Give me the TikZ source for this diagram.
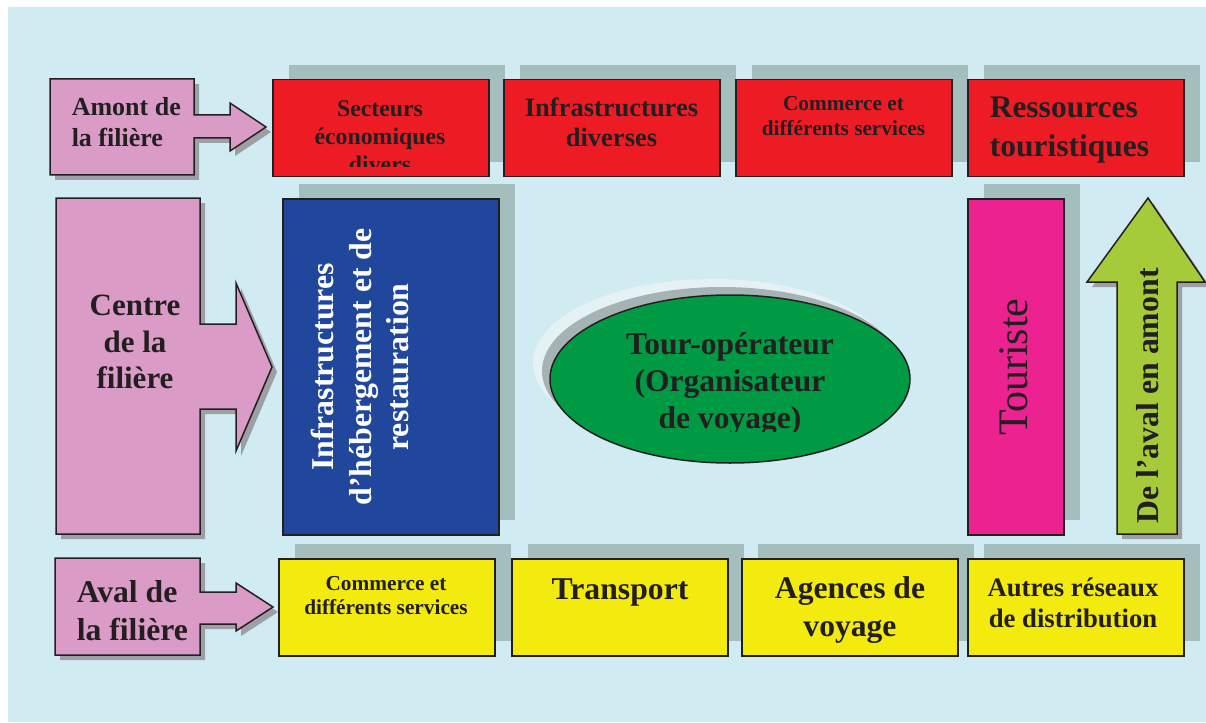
\documentclass[tikz,border=0pt]{standalone}
\usepackage{fontspec}
\setmainfont{Liberation Serif}
\usetikzlibrary{shapes.geometric}
\usetikzlibrary{shadows}
\definecolor{fond}{RGB}{208,236,242}
\definecolor{ombre}{RGB}{164,190,190}
\definecolor{ombrefl}{RGB}{156,159,163}
\definecolor{halo}{RGB}{228,242,246}
\definecolor{ombreel}{RGB}{166,179,181}
\definecolor{rouge}{RGB}{237,28,36}
\definecolor{bleu}{RGB}{33,71,157}
\definecolor{vert}{RGB}{0,154,68}
\definecolor{rose}{RGB}{236,34,144}
\definecolor{lime}{RGB}{166,203,58}
\definecolor{jaune}{RGB}{243,235,14}
\definecolor{mauve}{RGB}{218,155,198}
\definecolor{encre}{RGB}{35,31,32}
\newcommand\taille[2]{\fontsize{#1}{#2}\selectfont}

\begin{document}
\begin{tikzpicture}[x=1pt,y=-1pt,line width=1.5pt]%
\tikzset{boite/.style={draw=encre,anchor=north west,inner sep=0pt,minimum width=216pt,minimum height=97pt,
   general shadow={fill=ombre,shadow xshift=16pt,shadow yshift=15pt}},
 fleche/.style={draw=encre,fill=mauve,line join=miter,general shadow={fill=ombrefl,shadow xshift=5pt,shadow yshift=-5pt}},
 texte/.style={inner sep=0pt,align=center,text=encre,font=\bfseries}}
\useasboundingbox (0,0) rectangle (1206,722);
\fill[fond] (8,7) rectangle (1206,722);
%% amont
\draw[fleche] (50,79)--(194,79)--(194,115)--(230,115)--(230,103)--(266,127)--(230,151)--(230,138)--(194,138)--(194,175)--(50,175)--cycle;
\node[boite,fill=rouge] (am1) at (272,79) {}; %%
\node[boite,fill=rouge] (am2) at (503,79) {}; %%
\node[boite,fill=rouge] (am3) at (735,79) {}; %%
\node[boite,fill=rouge] (am4) at (967,79) {}; %%
%% centre
\draw[fleche] (56,198)--(200,198)--(200,324)--(236,324)--(236,283)--(272,367)--(236,451)--(236,409)--(200,409)--(200,534)--(56,534)--cycle;
\node[boite,fill=bleu,minimum height=336pt] (heb) at (282,198) {}; %%
\node[ellipse,draw=encre,fill=vert,minimum width=360pt,minimum height=168pt,
   general shadow={fill=halo,shadow xshift=-17pt,shadow yshift=16pt},
   general shadow={fill=ombreel,shadow xshift=-8pt,shadow yshift=8pt}] (to) at (730,379) {}; %%
\node[boite,fill=rose,minimum width=96pt,minimum height=336pt] (tou) at (967,198) {}; %%
\draw[fleche,fill=lime] (1148,198)--(1205,282)--(1177,282)--(1177,534)--(1117,534)--(1117,282)--(1087,282)--cycle;
%% aval
\draw[fleche] (55,558)--(200,558)--(200,592)--(236,592)--(236,583)--(273,607)--(236,631)--(236,624)--(200,624)--(200,655)--(55,655)--cycle;
\node[boite,fill=jaune] (av1) at (278,558) {}; %%
\node[boite,fill=jaune] (av2) at (511,558) {}; %%
\node[boite,fill=jaune] (av3) at (741,558) {}; %%
\node[boite,fill=jaune] (av4) at (967,558) {}; %%
%% textes
\node[texte,anchor=west,align=left,font=\bfseries\taille{26}{31}] (tam) at (71,122.5) {Amont de\\la filière}; %%
\node[texte,font=\bfseries\taille{31}{36.5}] (tc) at (135,342) {Centre\\de la\\filière}; %%
\node[texte,anchor=west,align=left,font=\bfseries\taille{31.7}{38}] (tav) at (76,611) {Aval de\\la filière}; %%
\begin{scope}
\clip (272,79) rectangle (488,167);
\node[texte,font=\bfseries\taille{23.8}{28}] (tam1) at (380,136.5) {Secteurs\\économiques\\divers}; %%
\end{scope}
\node[texte,font=\bfseries\taille{26.5}{30}] (tam2) at (611.5,122) {Infrastructures\\diverses}; %%
\node[texte,font=\bfseries\taille{21.3}{24.5}] (tam3) at (843.5,116) {Commerce et\\différents services}; %%
\node[texte,anchor=west,align=left,font=\bfseries\taille{31.5}{39}] (tam4) at (989,130) {Ressources\\touristiques}; %%
\node[texte,rotate=90,text=white,font=\bfseries\taille{31.8}{37.5}] (theb) at (360,367) {Infrastructures\\d’hébergement et de\\restauration}; %%
\begin{scope}
\clip (540,290) rectangle (920,431);
\node[texte,font=\bfseries\taille{31.5}{37}] (tto) at (730,384) {Tour-opérateur\\(Organisateur\\de voyage)}; %%
\end{scope}
\node[texte,rotate=90,font=\taille{42}{48}] (ttou) at (1014,367) {Touriste}; %%
\node[texte,rotate=90,font=\bfseries\taille{31.8}{38}] (tfl) at (1148,396) {De l’aval en amont}; %%
\node[texte,font=\bfseries\taille{21.3}{24.5}] (tav1) at (386,595.5) {Commerce et\\différents services}; %%
\node[texte,font=\bfseries\taille{31.7}{38}] (tav2) at (620,592.5) {Transport}; %%
\node[texte,font=\bfseries\taille{31.6}{38}] (tav3) at (850,609.7) {Agences de\\voyage}; %%
\node[texte,font=\bfseries\taille{26.7}{31}] (tav4) at (1073,602.4) {Autres réseaux\\de distribution}; %%
\end{tikzpicture}
\end{document}
